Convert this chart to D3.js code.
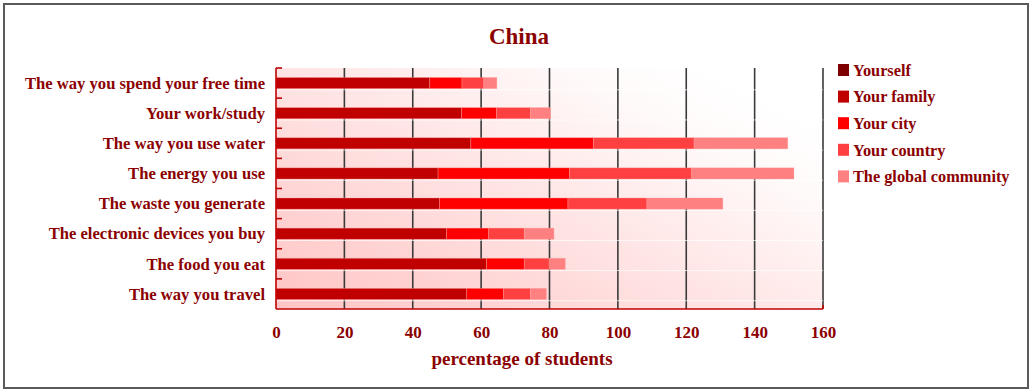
<!DOCTYPE html>
<html>
<head>
<meta charset="utf-8">
<script src="https://cdn.jsdelivr.net/npm/d3@7"></script>
<style>
  html, body { margin: 0; padding: 0; background: #fff; }
  svg { display: block; }
  text { font-family: "Liberation Serif", "DejaVu Serif", serif; font-weight: bold; fill: #8b0000; }
</style>
</head>
<body>
<svg id="chart" width="1032" height="392"></svg>
<script>
// Categories, top to bottom
const categories = [
  "The way you spend your free time",
  "Your work/study",
  "The way you use water",
  "The energy you use",
  "The waste you generate",
  "The electronic devices you buy",
  "The food you eat",
  "The way you travel"
];

// Percentage of students per level of responsibility
const seriesNames = ["Yourself", "Your family", "Your city", "Your country", "The global community"];
const yourself  = [0, 0, 0, 0, 0, 0, 0, 0];
const family    = [45.0, 54.3, 57.0, 47.4, 47.8, 49.9, 61.6, 55.8];
const city      = [9.4, 10.2, 35.8, 38.4, 37.6, 12.2, 11.0, 10.7];
const country   = [6.4, 9.9, 29.5, 35.8, 23.1, 10.5, 7.3, 7.9];
const global    = [3.8, 5.9, 27.4, 29.9, 22.2, 8.7, 4.7, 4.7];

const xTicks = [0, 20, 40, 60, 80, 100, 120, 140, 160];
const colors = ["#7f0000", "#c00000", "#ff0000", "#ff4040", "#ff8080"];

const svg = d3.select("#chart");

// outer frame
svg.append("rect")
  .attr("x", 4).attr("y", 4).attr("width", 1024).attr("height", 384)
  .attr("fill", "#fff").attr("stroke", "#5a5a5a").attr("stroke-width", 2);

const plot = { left: 276, right: 823, top: 68, bottom: 309 };

const x = d3.scaleLinear().domain([0, 160]).range([plot.left, plot.right]);
const y = d3.scaleBand().domain(categories).range([plot.top, plot.bottom])
  .paddingInner(0.63).paddingOuter(0.315);

// plot background gradient
const defs = svg.append("defs");
const grad = defs.append("linearGradient").attr("id", "bg")
  .attr("x1", 0).attr("y1", 1).attr("x2", 0.95).attr("y2", 0.2);
grad.append("stop").attr("offset", "0%").attr("stop-color", "#ffc4c4");
grad.append("stop").attr("offset", "55%").attr("stop-color", "#ffe6e6");
grad.append("stop").attr("offset", "85%").attr("stop-color", "#fffafa");
grad.append("stop").attr("offset", "100%").attr("stop-color", "#ffffff");

svg.append("rect")
  .attr("x", plot.left).attr("y", plot.top)
  .attr("width", plot.right - plot.left).attr("height", plot.bottom - plot.top)
  .attr("fill", "url(#bg)");

// vertical gridlines
svg.append("g").selectAll("line").data(xTicks.slice(1)).join("line")
  .attr("x1", d => x(d)).attr("x2", d => x(d))
  .attr("y1", plot.top).attr("y2", plot.bottom)
  .attr("stroke", "#3a3a3a").attr("stroke-width", 1.6);

// stacked data
const rows = categories.map((c, i) => ({
  cat: c,
  "Yourself": yourself[i],
  "Your family": family[i],
  "Your city": city[i],
  "Your country": country[i],
  "The global community": global[i]
}));
const stacked = d3.stack().keys(seriesNames)(rows);

// faint light line under each bar row
svg.append("g").selectAll("line").data(categories).join("line")
  .attr("x1", plot.left).attr("x2", plot.right)
  .attr("y1", d => y(d) + y.bandwidth() + 1.2)
  .attr("y2", d => y(d) + y.bandwidth() + 1.2)
  .attr("stroke", "#ffffff").attr("stroke-opacity", 0.7).attr("stroke-width", 1);

svg.append("g").selectAll("g").data(stacked).join("g")
  .attr("fill", (d, i) => colors[i])
  .selectAll("rect").data(d => d.filter(p => p[1] - p[0] > 0)).join("rect")
  .attr("x", d => x(d[0]))
  .attr("y", d => y(d.data.cat))
  .attr("width", d => x(d[1]) - x(d[0]))
  .attr("height", y.bandwidth())
  .attr("stroke", "#ffa0a0").attr("stroke-width", 0.6).attr("stroke-opacity", 0.6);

// y axis line and ticks at band boundaries
const step = y.step();
const boundaries = categories.map(c => y(c) - step * y.paddingInner() / 2);
svg.append("line")
  .attr("x1", plot.left).attr("x2", plot.left)
  .attr("y1", plot.top).attr("y2", plot.bottom)
  .attr("stroke", "#c00000").attr("stroke-width", 1.6);
svg.append("g").selectAll("line").data(boundaries).join("line")
  .attr("x1", plot.left).attr("x2", plot.left + 6)
  .attr("y1", d => d).attr("y2", d => d)
  .attr("stroke", "#c00000").attr("stroke-width", 1.6);

// x axis line
svg.append("line")
  .attr("x1", plot.left).attr("x2", plot.right)
  .attr("y1", plot.bottom).attr("y2", plot.bottom)
  .attr("stroke", "#c00000").attr("stroke-width", 1.6);
svg.append("line")
  .attr("x1", plot.right).attr("x2", plot.right)
  .attr("y1", plot.bottom - 4).attr("y2", plot.bottom)
  .attr("stroke", "#c00000").attr("stroke-width", 1.6);

// x tick labels
const xAxis = d3.axisBottom(x).tickValues(xTicks).tickSize(0).tickPadding(0);
const gx = svg.append("g").attr("transform", `translate(0,${plot.bottom + 16})`).call(xAxis);
gx.select(".domain").remove();
gx.selectAll("text")
  .attr("dy", "0.35em").attr("y", 7)
  .style("font-size", "17px").style("font-family", "Liberation Serif, serif")
  .style("font-weight", "bold").attr("fill", "#8b0000");

// category labels
svg.append("g").selectAll("text").data(categories).join("text")
  .attr("x", 265)
  .attr("y", d => y(d) + y.bandwidth() / 2)
  .attr("dy", "0.35em")
  .attr("text-anchor", "end")
  .style("font-size", "16.6px")
  .text(d => d);

// title
svg.append("text")
  .attr("x", 519).attr("y", 44)
  .attr("text-anchor", "middle")
  .style("font-size", "23px")
  .text("China");

// axis title
svg.append("text")
  .attr("x", 522).attr("y", 365)
  .attr("text-anchor", "middle")
  .style("font-size", "19px")
  .text("percentage of students");

// legend
const legend = svg.append("g").selectAll("g").data(seriesNames).join("g")
  .attr("transform", (d, i) => `translate(838,${70 + i * 26.6})`);
legend.append("rect")
  .attr("x", 0).attr("y", -6).attr("width", 11).attr("height", 12)
  .attr("fill", (d, i) => colors[i]);
legend.append("text")
  .attr("x", 15).attr("y", 0).attr("dy", "0.35em")
  .style("font-size", "16.3px")
  .text(d => d);
</script>
</body>
</html>
